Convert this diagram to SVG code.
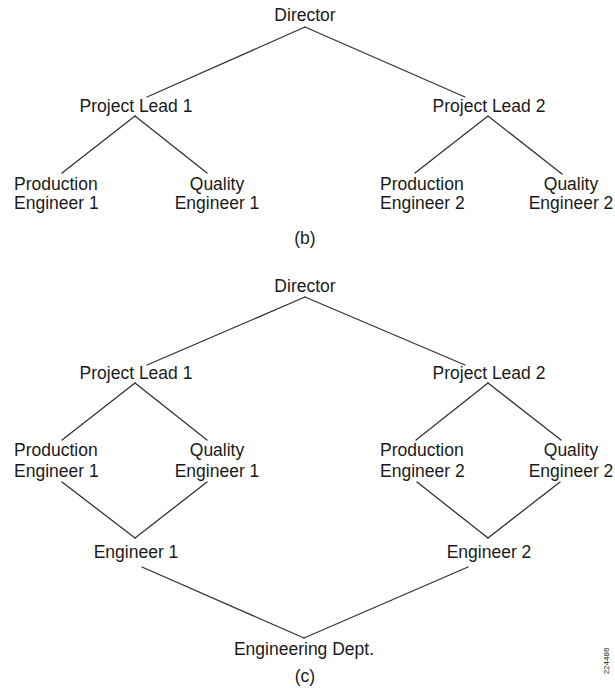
<svg xmlns="http://www.w3.org/2000/svg" width="615" height="688" viewBox="0 0 615 688">
<style>
text{font-family:"Liberation Sans",Arial,sans-serif;font-size:17.5px;fill:#1a1a1a}
.m{text-anchor:middle}
.e line{stroke:#333;stroke-width:1.3;stroke-linecap:round}
.fig{font-size:8px}
</style>
<rect width="615" height="688" fill="#fff"/>
<g class="e" id="connectors">
<line x1="305" y1="27" x2="147" y2="97"/>
<line x1="305" y1="27" x2="465" y2="97"/>
<line x1="135" y1="116" x2="62" y2="173"/>
<line x1="135" y1="116" x2="207" y2="173"/>
<line x1="488" y1="116" x2="415" y2="173"/>
<line x1="488" y1="116" x2="562" y2="174"/>
<line x1="305" y1="297" x2="147" y2="365"/>
<line x1="305" y1="297" x2="465" y2="365"/>
<line x1="135" y1="383" x2="62" y2="440"/>
<line x1="135" y1="383" x2="207" y2="440"/>
<line x1="488" y1="383" x2="416" y2="440"/>
<line x1="488" y1="383" x2="561" y2="440"/>
<line x1="62" y1="482" x2="135" y2="538"/>
<line x1="207" y1="482" x2="135" y2="538"/>
<line x1="417" y1="482" x2="488" y2="538"/>
<line x1="560" y1="482" x2="488" y2="538"/>
<line x1="142" y1="567" x2="304" y2="638"/>
<line x1="468" y1="567" x2="304" y2="638"/>
</g>
<g id="b-director"><text class="m" x="305" y="21">Director</text></g>
<g id="b-pl1"><text class="m" x="136" y="112">Project Lead 1</text></g>
<g id="b-pl2"><text class="m" x="489" y="112">Project Lead 2</text></g>
<g id="b-pe1"><text x="14" y="190">Production</text><text x="14" y="209">Engineer 1</text></g>
<g id="b-qe1"><text class="m" x="217" y="190">Quality</text><text class="m" x="217" y="209">Engineer 1</text></g>
<g id="b-pe2"><text x="380" y="190">Production</text><text x="380" y="209">Engineer 2</text></g>
<g id="b-qe2"><text class="m" x="571" y="190">Quality</text><text class="m" x="571" y="209">Engineer 2</text></g>
<g id="label-b"><text class="m" x="305" y="244">(b)</text></g>
<g id="c-director"><text class="m" x="305" y="292">Director</text></g>
<g id="c-pl1"><text class="m" x="136" y="379">Project Lead 1</text></g>
<g id="c-pl2"><text class="m" x="489" y="379">Project Lead 2</text></g>
<g id="c-pe1"><text x="14" y="456">Production</text><text x="14" y="477">Engineer 1</text></g>
<g id="c-qe1"><text class="m" x="217" y="456">Quality</text><text class="m" x="217" y="477">Engineer 1</text></g>
<g id="c-pe2"><text x="380" y="456">Production</text><text x="380" y="477">Engineer 2</text></g>
<g id="c-qe2"><text class="m" x="571" y="456">Quality</text><text class="m" x="571" y="477">Engineer 2</text></g>
<g id="c-eng1"><text class="m" x="136" y="558">Engineer 1</text></g>
<g id="c-eng2"><text class="m" x="489" y="558">Engineer 2</text></g>
<g id="c-dept"><text class="m" x="304" y="655">Engineering Dept.</text></g>
<g id="label-c"><text class="m" x="305" y="682">(c)</text></g>
<g id="fig-id"><text class="m fig" transform="translate(609,661) rotate(-90)">224486</text></g>
</svg>
